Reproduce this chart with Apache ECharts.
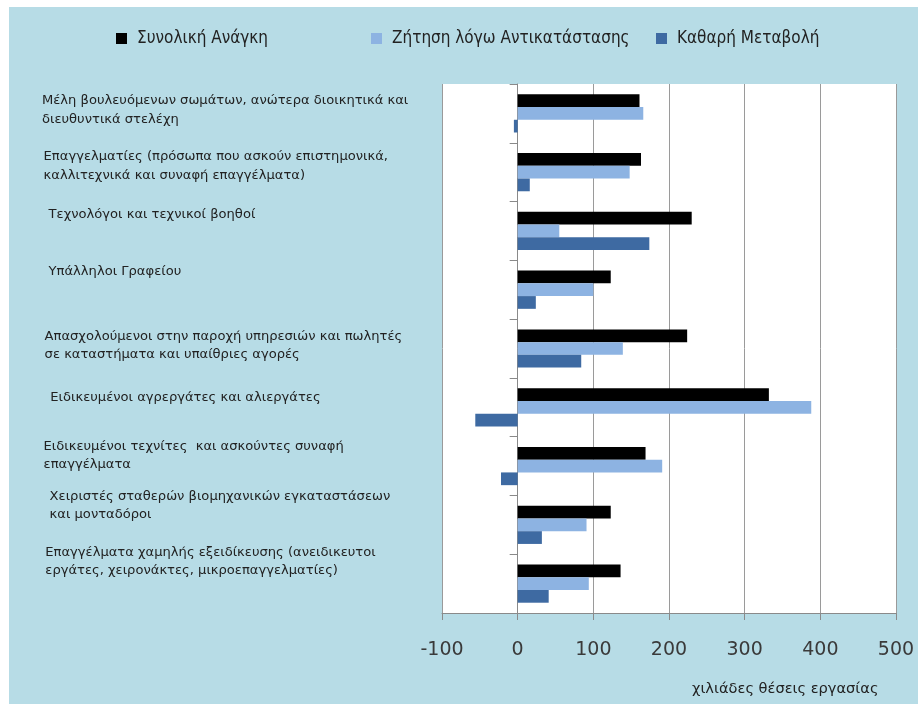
<!DOCTYPE html>
<html>
<head>
<meta charset="utf-8">
<script src="https://cdn.jsdelivr.net/npm/echarts@6/dist/echarts.min.js"></script>
<style>
  html, body { margin: 0; padding: 0; background: #ffffff; }
  #chart { position: absolute; left: 9px; top: 7px; width: 909px; height: 697px; }
</style>
</head>
<body>
<div id="chart"></div>
<script>
// ---- data ----
const categories = [
  "Μέλη βουλευόμενων σωμάτων, ανώτερα διοικητικά και\nδιευθυντικά στελέχη",
  "Επαγγελματίες (πρόσωπα που ασκούν επιστημονικά,\nκαλλιτεχνικά και συναφή επαγγέλματα)",
  "Τεχνολόγοι και τεχνικοί βοηθοί",
  "Υπάλληλοι Γραφείου",
  "Απασχολούμενοι στην παροχή υπηρεσιών και πωλητές\nσε καταστήματα και υπαίθριες αγορές",
  "Ειδικευμένοι αγρεργάτες και αλιεργάτες",
  "Ειδικευμένοι τεχνίτες  και ασκούντες συναφή\nεπαγγέλματα",
  "Χειριστές σταθερών βιομηχανικών εγκαταστάσεων\nκαι μονταδόροι",
  "Επαγγέλματα χαμηλής εξειδίκευσης (ανειδικευτοι\nεργάτες, χειρονάκτες, μικροεπαγγελματίες)"
];
const seriesNames = ["Συνολική Ανάγκη", "Ζήτηση λόγω Αντικατάστασης", "Καθαρή Μεταβολή"];
const totalNeed   = [161, 163, 230, 123, 224, 332, 169, 123, 136];
const replacement = [166, 148, 55, 100, 139, 388, 191, 91, 94];
const netChange   = [-5, 16, 174, 24, 84, -56, -22, 32, 41];
const xTicks = [-100, 0, 100, 200, 300, 400, 500];
const xAxisTitle = "χιλιάδες θέσεις εργασίας";

// ---- layout / style (label nudges per category) ----
const labelShiftUp = [3.4, 6.2, 16, 18.1, 2.6, 10.1, 10.2, 19, 22.1];
const labelIndent  = [0, 1.6, 6.6, 6.6, 2.6, 8.3, 1.6, 7.6, 3.3];
const colors = ["#000000", "#8db3e2", "#3e6aa2"];

const rich = {};
labelIndent.forEach((ind, i) => {
  rich['c' + i] = { fontFamily: 'DejaVu Sans', fontSize: 13.1, lineHeight: 18.3, color: '#222', padding: [0, 0, 0, ind], align: 'left' };
  rich['s' + i] = { fontSize: 1, lineHeight: labelShiftUp[i] * 2, align: 'left' };
});

const chart = echarts.init(document.getElementById('chart'));
const legendLefts = [107, 362, 647];
chart.setOption({
  backgroundColor: '#b7dce6',
  animation: false,
  title: {
    text: xAxisTitle,
    left: 683, top: 675, padding: 0,
    textStyle: { fontFamily: 'DejaVu Sans', fontSize: 14.6, fontWeight: 'normal', color: '#222' }
  },
  legend: seriesNames.map((n, i) => ({
    data: [n],
    left: legendLefts[i], top: 23, padding: 0,
    itemWidth: 11, itemHeight: 11,
    icon: 'rect',
    textStyle: { fontFamily: 'DejaVu Sans Condensed', fontSize: 17, color: '#222', padding: [0, 0, 0, 5] }
  })),
  grid: { left: 433, right: 22, top: 77, bottom: 91, containLabel: false, outerBoundsMode: 'none', show: true, backgroundColor: '#ffffff', borderWidth: 0 },
  xAxis: {
    type: 'value',
    min: xTicks[0], max: xTicks[xTicks.length - 1], interval: 100,
    axisLine: { show: true, lineStyle: { color: '#8a8a8a', width: 1 } },
    axisTick: { show: true, length: 7, lineStyle: { color: '#8a8a8a' } },
    axisLabel: { fontFamily: 'DejaVu Sans', fontSize: 19, color: '#3a3a3a', margin: 28 },
    splitLine: { show: true, lineStyle: { color: '#9a9a9a', width: 1 } }
  },
  yAxis: {
    type: 'category',
    inverse: true,
    data: categories,
    axisLine: { show: true, onZero: true, lineStyle: { color: '#8a8a8a', width: 1 } },
    axisTick: { show: true, length: 8, lineStyle: { color: '#8a8a8a' } },
    axisLabel: {
      align: 'left', verticalAlign: 'middle', margin: 400, interval: 0, hideOverlap: false,
      fontFamily: 'DejaVu Sans', fontSize: 13.1, lineHeight: 18.3, color: '#222',
      formatter: (value, index) => value.split('\n').map(l => `{c${index}|${l}}`).join('\n') + `\n{s${index}| }`,
      rich: rich
    }
  },
  series: [totalNeed, replacement, netChange].map((d, i) => ({
    name: seriesNames[i],
    type: 'bar',
    data: d,
    barGap: '0%',
    barCategoryGap: '35%',
    itemStyle: { color: colors[i] }
  }))
});
</script>
</body>
</html>
